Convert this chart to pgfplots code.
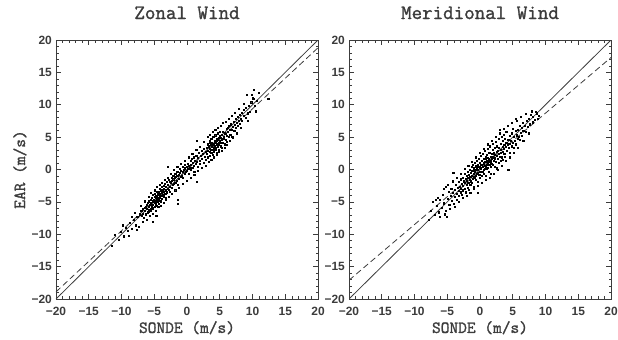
\documentclass[border=0pt]{standalone}
\usepackage{fontspec}
\setmainfont{Liberation Sans}
\newfontfamily\lmono{Latin Modern Mono}[FakeBold=1.5]
\usepackage{pgfplots}
\usepackage{pgfplotstable}
\pgfplotsset{compat=1.18}
\definecolor{ink}{RGB}{60,60,60}
\definecolor{dot}{RGB}{70,70,70}

\pgfplotstableread{
x y
-11.5 -11.8
-11.0 -10.0
-10.4 -10.9
-10.1 -9.6
-9.7 -10.3
-9.3 -9.0
-9.0 -9.5
-8.7 -8.2
-8.4 -7.3
-8.4 -9.1
-8.1 -7.8
-7.9 -8.6
-7.6 -7.3
-7.4 -8.9
-7.2 -6.9
-7.0 -6.4
-6.9 -7.2
-6.8 -6.0
-6.7 -6.8
-6.6 -7.5
-6.5 -5.9
-6.4 -6.3
-6.3 -6.9
-6.2 -5.4
-6.1 -6.0
-6.0 -6.6
-6.0 -5.1
-5.9 -5.7
-5.8 -6.2
-5.8 -4.9
-5.7 -5.4
-5.6 -6.0
-5.6 -4.6
-5.5 -5.2
-5.5 -6.4
-5.4 -4.3
-5.4 -5.7
-5.3 -4.9
-5.3 -3.9
-5.3 -8.1
-5.2 -5.4
-5.2 -6.1
-5.1 -4.6
-5.1 -5.0
-5.0 -4.2
-5.0 -5.8
-4.9 -4.8
-4.9 -3.7
-4.8 -5.2
-4.8 -4.4
-4.7 -4.0
-4.7 -5.6
-4.7 -7.2
-4.6 -4.7
-4.6 -3.4
-4.5 -4.3
-4.5 -5.0
-4.4 -3.9
-4.4 -4.6
-4.3 -3.5
-4.3 -5.3
-4.2 -4.1
-4.2 -3.0
-4.1 -4.4
-4.1 -3.7
-4.0 -4.9
-4.0 -3.3
-3.9 -4.0
-3.9 -2.7
-3.8 -3.6
-3.8 -4.5
-3.7 -3.1
-3.7 -3.9
-3.6 -2.5
-3.6 -4.2
-3.5 -3.4
-3.5 -2.9
-3.4 -3.8
-3.4 -2.2
-3.3 -3.2
-3.3 -4.4
-3.2 -2.7
-3.1 -3.5
-3.1 -1.9
-3.0 -3.0
-3.0 -2.4
-2.9 -2.3
-2.9 0.4
-2.8 -3.1
-2.8 -1.6
-2.7 -2.6
-2.6 -1.9
-2.6 -3.4
-2.5 -2.1
-2.4 -1.2
-2.4 -2.8
-2.3 -1.7
-2.2 -2.4
-2.1 -0.9
-2.1 -1.5
-2.0 -2.2
-1.9 -1.3
-1.8 -0.6
-1.8 -2.0
-1.7 -1.1
-1.6 -1.7
-1.5 -0.4
-1.5 -1.0
-1.4 -2.3
-1.4 -5.3
-1.4 -4.6
-1.3 -0.8
-1.2 -1.4
-1.1 0.1
-1.1 -0.5
-1.0 -1.1
-0.9 -0.2
-0.8 -0.9
-0.7 0.4
-0.7 -0.4
-0.6 -1.3
-0.5 0.0
-0.4 -0.6
-0.3 0.7
-0.3 0.2
-0.2 -0.3
-0.1 0.5
0.0 -0.2
0.1 0.9
0.1 0.1
0.2 -0.6
0.3 0.6
0.4 0.2
0.5 1.3
0.5 -0.1
0.6 0.7
0.7 1.7
0.8 0.3
0.9 1.1
1.0 0.6
1.0 1.9
1.1 -0.3
1.2 1.4
1.3 0.9
1.4 2.2
1.5 1.2
1.5 4.4
1.5 -1.9
1.6 0.4
1.7 1.8
1.8 2.6
1.9 1.4
2.0 0.9
2.1 2.1
2.2 2.9
2.3 1.6
2.4 2.4
2.5 1.1
2.6 3.2
2.7 2.0
2.8 2.7
2.9 1.5
3.0 3.3
3.0 2.5
3.1 4.0
3.2 2.9
3.2 1.9
3.3 3.6
3.4 2.7
3.4 4.4
3.5 3.2
3.5 2.2
3.6 3.9
3.6 3.0
3.7 4.7
3.7 2.6
3.8 3.5
3.8 4.2
3.9 3.1
3.9 2.3
4.0 4.0
4.0 5.0
4.1 3.4
4.1 2.8
4.2 4.5
4.2 3.7
4.3 3.0
4.3 5.3
4.4 4.1
4.4 3.3
4.5 4.8
4.5 2.6
4.6 3.9
4.6 4.4
4.7 3.5
4.7 5.6
4.8 4.2
4.8 3.0
4.9 4.9
4.9 3.8
5.0 4.5
5.0 5.9
5.1 3.6
5.2 4.9
5.2 4.1
5.3 5.4
5.3 3.3
5.4 4.7
5.5 5.8
5.5 4.2
5.6 5.1
5.7 3.9
5.8 5.6
5.9 4.6
6.0 6.3
6.0 5.2
6.1 4.3
6.2 5.8
6.3 6.7
6.4 5.0
6.5 6.1
6.6 5.4
6.7 7.0
6.8 6.2
6.9 5.1
7.0 6.6
7.1 7.4
7.2 6.0
7.3 6.9
7.4 7.8
7.5 6.5
7.6 7.2
7.7 8.1
7.8 6.8
7.9 7.6
8.0 8.5
8.1 7.1
8.2 7.9
8.3 8.8
8.4 7.5
8.6 8.3
8.7 9.2
8.9 8.0
9.0 9.6
9.1 11.5
9.2 8.7
9.4 9.9
9.6 8.9
9.8 10.4
10.0 11.1
10.1 11.0
10.2 12.3
10.3 9.8
10.6 10.6
10.9 11.8
12.4 10.9
-9.8 -8.6
-8.9 -10.2
-8.0 -6.7
-7.7 -9.3
-7.1 -5.6
-6.8 -8.0
-6.4 -4.9
-6.2 -7.8
-5.9 -4.2
-5.7 -7.1
-5.5 -3.6
-5.2 -6.8
-5.0 -3.2
-4.8 -6.3
-4.6 -2.7
-4.4 -5.8
-4.2 -2.3
-4.0 -5.6
-3.8 -2.0
-3.6 -5.1
-3.4 -1.6
-3.2 -4.6
-3.0 -1.3
-2.8 -4.2
-2.5 -0.6
-2.3 -3.7
-2.0 -0.1
-1.8 -3.2
-1.5 0.5
-1.2 -2.8
-1.0 0.9
-0.7 -2.2
-0.4 1.4
-0.1 -1.7
0.2 1.9
0.5 -1.3
0.8 2.5
1.1 -0.8
1.4 3.0
1.7 -0.2
2.0 3.5
2.3 0.3
2.6 4.3
2.9 0.6
3.1 5.0
3.3 1.2
3.5 5.4
3.7 1.5
3.9 5.8
4.1 1.9
4.3 6.2
4.5 2.3
4.7 6.5
4.9 2.7
5.1 6.8
5.3 2.9
5.5 7.2
5.7 3.4
5.9 7.4
6.1 3.8
6.3 7.9
6.5 4.4
6.8 8.3
7.0 4.9
7.3 8.8
7.6 5.6
7.9 9.4
8.2 6.4
8.6 10.1
9.3 7.6
9.9 11.6
10.5 9.0
-6.3 -5.7
-5.9 -6.5
-5.6 -5.4
-5.3 -5.9
-5.0 -5.1
-4.8 -4.9
-4.5 -3.8
-4.3 -4.8
-4.0 -4.1
-3.8 -3.2
-3.5 -3.9
-3.2 -3.7
3.2 3.8
3.5 4.1
3.8 3.9
4.0 3.6
4.3 4.3
4.5 3.9
4.7 4.6
5.0 5.2
5.3 4.6
5.6 4.8
5.9 5.5
6.2 6.4
}\zonal

\pgfplotstableread{
x y
-7.9 -7.8
-7.5 -6.3
-7.2 -5.0
-6.9 -7.0
-6.6 -5.6
-6.5 -4.4
-6.3 -6.6
-6.1 -4.7
-5.9 -5.9
-5.7 -3.9
-5.5 -5.2
-5.3 -6.4
-5.2 -2.6
-5.1 -7.3
-5.0 -4.5
-4.8 -3.4
-4.7 -5.5
-4.5 -4.0
-4.4 -2.9
-4.3 -4.8
-4.2 -3.6
-4.1 -0.5
-4.0 -5.3
-3.9 -3.1
-3.8 -4.2
-3.7 -2.4
-3.6 -3.7
-3.5 -4.7
-3.4 -2.8
-3.3 -3.3
-3.2 -1.9
-3.2 -4.0
-3.1 -2.6
-3.0 -3.5
-3.0 -1.5
-2.9 -2.9
-2.8 -2.2
-2.8 -3.9
-2.7 -1.2
-2.6 -2.5
-2.6 -3.2
-2.5 -1.8
-2.4 -0.7
-2.4 -2.9
-2.3 -2.1
-2.2 -1.4
-2.2 -3.5
-2.1 -2.4
-2.0 -0.9
-2.0 -1.7
-1.9 -2.8
-1.9 -0.3
-1.8 -1.3
-1.8 -2.1
-1.7 -0.8
-1.7 -3.1
-1.6 -1.6
-1.6 -0.1
-1.5 -1.1
-1.5 -2.4
-1.4 -0.5
-1.4 -1.8
-1.3 0.4
-1.3 -1.0
-1.2 -2.0
-1.2 -0.2
-1.1 -1.4
-1.1 0.8
-1.0 -0.7
-1.0 -2.6
-0.9 0.2
-0.9 -1.1
-0.8 -0.4
-0.8 1.1
-0.7 -1.6
-0.7 0.5
-0.6 -0.1
-0.6 -0.9
-0.5 1.4
-0.5 0.3
-0.4 -0.5
-0.4 -1.9
-0.3 0.8
-0.3 -3.6
-0.3 0.0
-0.2 -0.8
-0.2 1.7
-0.1 0.4
-0.1 -0.3
0.0 1.0
0.0 -1.3
0.1 0.2
0.1 2.1
0.2 -0.4
0.2 0.7
0.3 1.3
0.3 -1.0
0.4 0.4
0.4 2.5
0.5 -0.1
0.5 1.0
0.6 1.6
0.6 -0.6
0.7 0.6
0.7 2.9
0.8 1.2
0.8 0.1
0.9 1.9
0.9 -0.9
1.0 0.8
1.0 2.3
1.1 1.4
1.1 0.3
1.2 3.2
1.2 1.0
1.3 -0.3
1.3 1.7
1.4 0.7
1.4 2.6
1.5 1.3
1.5 3.6
1.6 0.4
1.6 2.0
1.7 1.1
1.7 -0.6
1.8 2.4
1.8 1.6
1.9 3.0
1.9 0.8
2.0 1.9
2.0 4.0
2.1 1.3
2.1 2.6
2.2 0.5
2.2 3.3
2.3 1.8
2.3 2.3
2.4 4.3
2.4 1.2
2.5 2.8
2.5 0.2
2.6 2.1
2.6 3.6
2.7 1.6
2.7 2.9
2.8 4.7
2.8 1.0
2.9 2.4
2.9 3.4
3.0 6.1
3.0 2.0
3.1 3.0
3.1 1.4
3.2 4.0
3.2 2.6
3.3 5.0
3.3 1.9
3.4 3.5
3.4 2.8
3.5 4.4
3.5 1.5
3.6 3.2
3.6 5.4
3.7 2.4
3.7 3.8
3.8 4.8
3.8 2.0
3.9 3.5
4.0 4.2
4.0 5.8
4.1 2.9
4.2 3.9
4.3 -0.1
4.3 4.6
4.4 3.3
4.5 5.2
4.5 4.0
4.6 2.6
4.7 4.5
4.8 3.6
4.9 5.6
5.0 4.2
5.0 6.3
5.1 3.4
5.2 5.0
5.3 4.4
5.4 6.0
5.5 3.9
5.6 7.6
5.6 5.3
5.7 4.7
5.8 6.1
5.9 5.0
6.0 6.7
6.1 4.6
6.2 5.7
6.3 6.5
6.4 5.2
6.5 7.2
6.6 6.0
6.8 6.8
7.0 5.8
7.1 7.6
7.3 6.6
7.5 7.9
7.6 7.0
7.8 8.4
8.0 7.3
8.1 8.2
8.3 7.7
8.5 8.9
8.7 8.7
8.8 7.9
8.9 8.3
-6.8 -4.6
-6.2 -7.3
-5.6 -3.0
-5.4 -6.9
-4.9 -2.4
-4.6 -6.1
-4.2 -1.8
-3.9 -5.7
-3.6 -1.2
-3.3 -5.0
-3.0 -0.6
-2.7 -4.4
-2.4 0.1
-2.1 -4.0
-1.8 0.6
-1.5 -3.6
-1.2 1.2
-0.9 -3.0
-0.6 1.9
-0.3 -2.5
0.0 2.6
0.3 -2.1
0.6 3.2
0.9 -1.6
1.2 3.9
1.5 -1.2
1.8 4.5
2.1 -0.6
2.4 5.1
2.7 0.0
3.0 5.6
3.3 0.6
3.6 6.3
3.9 1.3
4.2 6.8
4.5 1.9
4.8 7.2
5.1 2.6
5.5 7.9
5.8 3.4
6.2 8.1
6.6 4.4
7.0 8.6
7.4 5.6
7.9 9.0
-1.0 -0.2
-0.8 -1.3
-0.5 -0.6
-0.3 0.4
0.0 0.3
0.2 1.4
0.4 -0.3
0.6 0.9
0.8 1.7
1.0 0.2
1.2 1.8
1.4 1.2
1.6 1.4
1.8 0.9
2.0 2.4
2.2 1.6
0.1 0.8
-0.1 -0.8
-0.6 0.6
0.9 0.5
}\merid

\pgfplotsset{idl/.style={
  scale only axis, width=262bp, height=259bp,
  xmin=-20, xmax=20, ymin=-20, ymax=20,
  xtick={-20,-15,-10,-5,0,5,10,15,20},
  ytick={-20,-15,-10,-5,0,5,10,15,20},
  xticklabels={−20,−15,−10,−5,0,5,10,15,20},
  yticklabels={−20,−15,−10,−5,0,5,10,15,20},
  minor tick num=4,
  tick align=inside,
  major tick length=5bp, minor tick length=2.5bp,
  axis line style={ink, line width=0.8bp},
  every tick/.style={ink, line width=0.6bp},
  tick label style={font=\bfseries\fontsize{12}{12}\selectfont, text=ink},
  /pgf/number format/assume math mode=true,
  xticklabel style={anchor=base, yshift=-16bp, inner sep=0pt},
  yticklabel style={anchor=east, xshift=-4bp, inner sep=0pt},
  title style={at={(axis description cs:0.5,1.058)}, anchor=base, font=\lmono\fontsize{20.5}{20.5}\selectfont, text=ink},
  xlabel style={at={(axis description cs:0.5,-0.131)}, anchor=base, font=\lmono\fontsize{17}{17}\selectfont, text=ink},
  ylabel style={at={(axis description cs:-0.118,0.5)}, anchor=base, font=\lmono\fontsize{17}{17}\selectfont, text=ink},
  clip=true,
}}

\begin{document}
\begin{tikzpicture}
\useasboundingbox (0,0) rectangle (618bp,340bp);
\begin{axis}[idl, at={(56bp,41bp)}, anchor=south west,
  title={Zonal Wind}, xlabel={SONDE (m/s)}, ylabel={EAR (m/s)}]
  \addplot[only marks, mark=square*, mark size=0.55bp, mark options={fill=dot, draw=none}] table[x=x,y=y] {\zonal};
  \addplot[ink, line width=0.8bp] coordinates {(-20,-20) (20,20)};
  \addplot[ink, line width=0.8bp, dash pattern=on 6bp off 3.5bp] coordinates {(-20,-18.9) (20,18.8)};
\end{axis}
\begin{axis}[idl, at={(349bp,41bp)}, anchor=south west,
  title={Meridional Wind}, xlabel={SONDE (m/s)}]
  \addplot[only marks, mark=square*, mark size=0.55bp, mark options={fill=dot, draw=none}] table[x=x,y=y] {\merid};
  \addplot[ink, line width=0.8bp] coordinates {(-20,-20) (20,20)};
  \addplot[ink, line width=0.8bp, dash pattern=on 6bp off 3.5bp] coordinates {(-20,-17.1) (20,17.3)};
\end{axis}
\end{tikzpicture}
\end{document}
